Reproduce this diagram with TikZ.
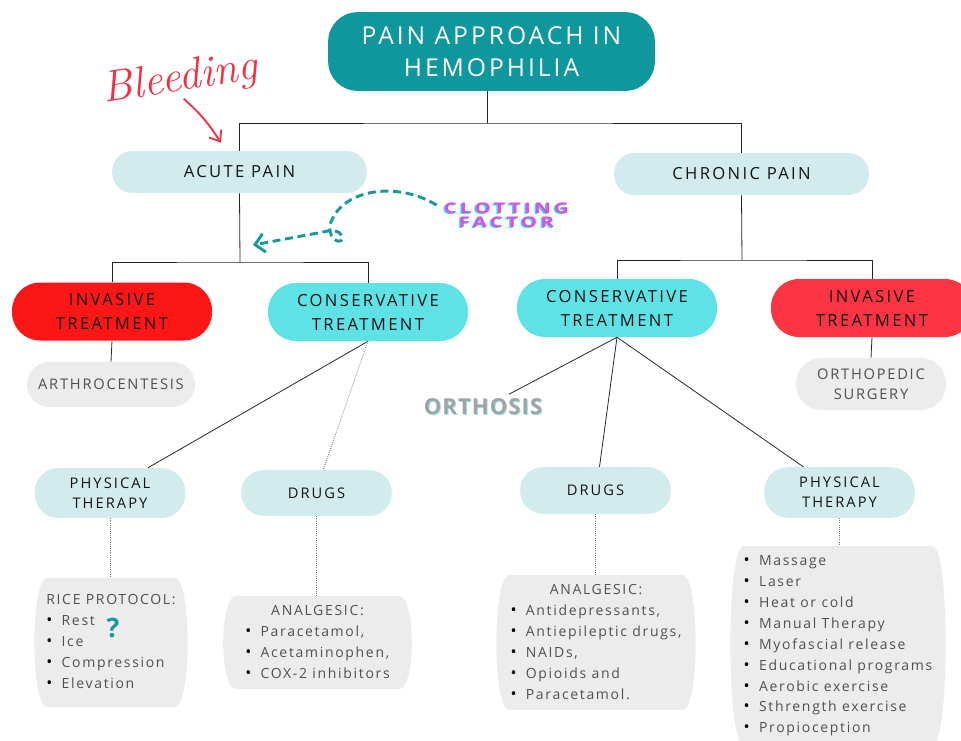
\documentclass[tikz,border=0pt]{standalone}
\usepackage{fontspec}
\usetikzlibrary{arrows.meta}

\newfontfamily\titlefont{Open Sans}[LetterSpace=12]
\newfontfamily\headfont{Open Sans}[LetterSpace=14]
\newfontfamily\listfont{Open Sans}[LetterSpace=12]
\newfontfamily\orthfont{Open Sans}[LetterSpace=5]
\newfontfamily\clotfont{Open Sans}[FakeStretch=1.4,LetterSpace=22]

\definecolor{titleteal}{RGB}{14,152,158}
\definecolor{paleblue}{RGB}{210,236,237}
\definecolor{brightred}{RGB}{252,22,22}
\definecolor{softred}{RGB}{252,52,68}
\definecolor{cyanbox}{RGB}{94,226,230}
\definecolor{greybox}{RGB}{236,236,236}
\definecolor{txtgrey}{RGB}{80,80,80}
\definecolor{txtdark}{RGB}{20,20,20}
\definecolor{bleedred}{RGB}{240,50,70}
\definecolor{dashteal}{RGB}{23,154,156}
\definecolor{clotpink}{RGB}{225,75,230}
\definecolor{clotcyan}{RGB}{60,220,240}
\definecolor{orthcyan}{RGB}{140,230,235}

\newcommand\blt{{\color{black}\large\textbullet}}

\tikzset{
  headbox/.style={fill=paleblue, rounded corners=15pt, minimum width=191pt,
    minimum height=31.5pt, inner sep=0pt, text=txtdark,
    font=\headfont\fontsize{12.5}{15}\selectfont},
  treatbox/.style={rounded corners=21pt, minimum width=150pt, minimum height=43.5pt,
    inner sep=0pt, align=center, text=txtdark,
    font=\headfont\fontsize{12.5}{18}\selectfont},
  subbox/.style={fill=paleblue, rounded corners=17pt, minimum width=113pt,
    minimum height=36pt, inner sep=0pt, align=center, text=txtdark,
    font=\headfont\fontsize{11}{15}\selectfont},
  greypill/.style={fill=greybox, rounded corners=17pt, inner sep=0pt, align=center,
    text=txtgrey, font=\listfont\fontsize{11}{15}\selectfont},
  barrel/.style={inner sep=0pt, text=txtgrey,
    font=\listfont\fontsize{10.5}{15.7}\selectfont,
    path picture={
      \fill[greybox] ([xshift=13pt]path picture bounding box.north west)
        -- ([xshift=-13pt]path picture bounding box.north east)
        .. controls (path picture bounding box.north east) and (path picture bounding box.south east)
        .. ([xshift=-13pt]path picture bounding box.south east)
        -- ([xshift=13pt]path picture bounding box.south west)
        .. controls (path picture bounding box.south west) and (path picture bounding box.north west)
        .. cycle;}},
  tree/.style={black!85, line width=0.6pt},
  dotline/.style={black!55, densely dotted, line width=0.6pt}
}

\begin{document}
\begin{tikzpicture}[x=0.75pt, y=-0.75pt]
  \useasboundingbox (0,0) rectangle (961,740);
  \clip (0,0) rectangle (961,740);

  % Title and the two kinds of pain
  \node[fill=titleteal, rounded corners=22pt, minimum width=245pt, minimum height=59pt,
    inner sep=0pt, align=center, text=white, font=\titlefont\fontsize{18.5}{24}\selectfont]
    (title) at (491.5,51.5) {PAIN APPROACH IN\\HEMOPHILIA};
  \node[headbox] (acute) at (239.5,172) {ACUTE PAIN};
  \node[headbox] (chronic) at (741.5,174) {CHRONIC PAIN};

  % Treatments
  \node[treatbox, fill=brightred] (invL) at (112,311.5) {INVASIVE\\TREATMENT};
  \node[treatbox, fill=cyanbox] (consL) at (368,312) {CONSERVATIVE\\TREATMENT};
  \node[treatbox, fill=cyanbox] (consR) at (617,308) {CONSERVATIVE\\TREATMENT};
  \node[treatbox, fill=softred, minimum width=151.5pt] (invR) at (872,308) {INVASIVE\\TREATMENT};

  % Grey pills
  \node[greypill, minimum width=126pt, minimum height=34pt] (arthro) at (111,384.5) {ARTHROCENTESIS};
  \node[greypill, minimum width=112.5pt, minimum height=39pt, rounded corners=19pt]
    (ortho) at (871,384) {ORTHOPEDIC\\SURGERY};
  \node[text=orthcyan, font=\orthfont\bfseries\fontsize{16.5}{18}\selectfont] at (484,407.5) {ORTHOSIS};
  \node[text=black!36, font=\orthfont\bfseries\fontsize{16.5}{18}\selectfont] (orth) at (483,407) {ORTHOSIS};

  % Second level boxes
  \node[subbox, minimum height=37.5pt, rounded corners=18pt] (ptL) at (110,493) {PHYSICAL\\THERAPY};
  \node[subbox, minimum height=34.5pt] (drugsL) at (316.5,493) {DRUGS};
  \node[subbox, minimum height=35pt] (drugsR) at (595.5,490.5) {DRUGS};
  \node[subbox, minimum height=38pt, rounded corners=18pt] (ptR) at (839.5,492.5) {PHYSICAL\\THERAPY};

  % Lists
  \node[barrel, minimum width=121.5pt, minimum height=97pt] (rice) at (111,642.5)
    {\begin{tabular}{@{}l@{\hspace{7pt}}l@{}}
      \multicolumn{2}{@{}l@{}}{RICE PROTOCOL:}\\
      \blt & Rest\\ \blt & Ice\\ \blt & Compression\\ \blt & Elevation
    \end{tabular}};
  \node[barrel, minimum width=148pt, minimum height=70pt] (analL) at (317.5,642.5)
    {\begin{tabular}{@{}l@{\hspace{7pt}}l@{}}
      \multicolumn{2}{c}{ANALGESIC:}\\
      \blt & Paracetamol,\\ \blt & Acetaminophen,\\ \blt & COX-2 inhibitors
    \end{tabular}};
  \node[barrel, minimum width=156pt, minimum height=101pt] (analR) at (596,642.5)
    {\begin{tabular}{@{}l@{\hspace{7pt}}l@{}}
      \multicolumn{2}{c}{ANALGESIC:}\\
      \blt & Antidepressants,\\ \blt & Antiepileptic drugs,\\ \blt & NAIDs,\\
      \blt & Opioids and\\ \blt & Paracetamol.
    \end{tabular}};
  \node[barrel, minimum width=168pt, minimum height=148.5pt] (ptRlist) at (838,645)
    {\begin{tabular}{@{}l@{\hspace{7pt}}l@{}}
      \blt & Massage\\ \blt & Laser\\ \blt & Heat or cold\\
      \blt & Manual Therapy\\ \blt & Myofascial release\\
      \blt & Educational programs\\ \blt & Aerobic exercise\\
      \blt & Sthrength exercise\\ \blt & Propioception
    \end{tabular}};
  \node[text=dashteal, font=\headfont\bfseries\fontsize{20}{20}\selectfont] (qmark) at (113,628) {?};

  % Tree lines
  \coordinate (j1) at (487,123);
  \coordinate (j2) at (240,262);
  \coordinate (j3) at (742,260);
  \draw[tree] (title.south -| j1) -- (j1);
  \draw[tree] (acute.north) |- (j1) -| (chronic.north);
  \draw[tree] (acute.south) -- (j2);
  \draw[tree] (invL.north) |- (j2) -| (consL.north);
  \draw[tree] (chronic.south) -- (j3);
  \draw[tree] (consR.north) |- (j3) -| (invR.north);
  \draw[tree] (invL.south) -- (arthro.north);
  \draw[tree] (invR.south) -- (ortho.north);
  \draw[tree] (consL.south) -- ([xshift=28.5pt]ptL.north);
  \draw[dotline] (consL.south) -- ([xshift=5pt]drugsL.north);
  \draw[tree] (consR.south) -- ([xshift=19.5pt]orth.north);
  \draw[tree] (consR.south) -- ([xshift=3pt]drugsR.north);
  \draw[tree] (consR.south) -- ([xshift=-27pt]ptR.north);

  % Dotted links to the lists
  \draw[dotline] (ptL.south) -- (ptL.south |- rice.north);
  \draw[dotline] (drugsL.south) -- (drugsL.south |- analL.north);
  \draw[dotline] (drugsR.south) -- (drugsR.south |- analR.north);
  \draw[dotline] (ptR.south) -- (ptR.south |- ptRlist.north);

  % Bleeding note
  \node[text=bleedred, rotate=9, font=\itshape\fontsize{33}{33}\selectfont] (bleed) at (180,80) {Bleeding};
  \draw[bleedred, line width=1.4pt, -{Straight Barb[length=7pt,width=11pt]}]
    ([xshift=0pt,yshift=4pt]bleed.south) to[bend left=8] ([xshift=-14pt,yshift=6pt]acute.north);

  % Clotting factor note
  \node[text=clotcyan, align=center, font=\clotfont\bfseries\fontsize{11}{10.5}\selectfont] at (505,216) {CLOTTING\\FACTOR};
  \node[text=clotpink, align=center, font=\clotfont\bfseries\fontsize{11}{10.5}\selectfont] (clot) at (506.5,215) {CLOTTING\\FACTOR};
  \coordinate (clotend) at (253,245);
  \draw[dashteal, line width=2.2pt, dash pattern=on 6pt off 3.5pt, -{Straight Barb[length=7pt,width=14pt]}]
    ([xshift=-2pt,yshift=7.5pt]clot.west) .. controls (395,180) and (340,190) .. (330,225)
    .. controls (328,243) and (345,245) .. (342,236)
    .. controls (340,230) and (330,230) .. (323,232) -- (clotend);
\end{tikzpicture}
\end{document}
